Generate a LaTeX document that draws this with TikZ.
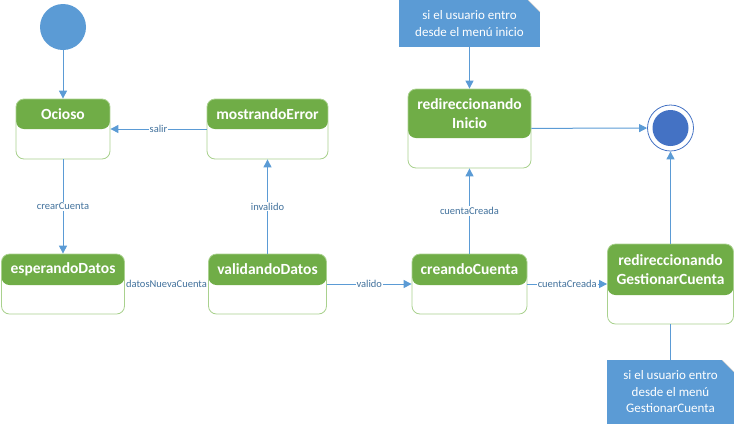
\documentclass[tikz,border=0pt]{standalone}
\usepackage{fontspec}
\setmainfont{Carlito}
\usetikzlibrary{arrows.meta}
\definecolor{hdrgreen}{HTML}{70AD47}
\definecolor{boxline}{HTML}{A9D18E}
\definecolor{flowblue}{HTML}{5B9BD5}
\definecolor{endblue}{HTML}{4472C4}
\definecolor{lbltext}{HTML}{41719C}

\tikzset{
  state/.style 2 args={draw=boxline, line width=0.8pt, fill=white, rounded corners=8pt,
    path picture={\fill[hdrgreen] (path picture bounding box.north west) rectangle ([yshift=-#1]path picture bounding box.north east);},
    label={[title, minimum height=#1]north:#2}},
  title/.style={anchor=north, inner sep=0pt, align=center, text=white, font=\fontsize{15.5}{19}\selectfont\bfseries},
  note/.style={fill=flowblue, text=white, align=center, inner sep=0pt, font=\fontsize{13}{16.5}\selectfont,
    path picture={\fill[white] ([xshift=-12pt]path picture bounding box.north east) -- (path picture bounding box.north east) -- ([yshift=-12pt]path picture bounding box.north east) -- cycle;
      \draw[black!20] ([xshift=-12pt]path picture bounding box.north east) -- ([yshift=-12pt]path picture bounding box.north east);}},
  start/.style={circle, fill=flowblue, minimum size=46pt, inner sep=0pt},
  finish/.style={circle, draw=endblue, line width=0.8pt, fill=white, minimum size=46pt, inner sep=0pt,
    path picture={\fill[endblue] (path picture bounding box.center) circle (18pt);}},
  lbl/.style={fill=white, inner sep=1pt, text=lbltext, font=\fontsize{10.5}{12}\selectfont},
  link/.style={draw=flowblue, line width=1pt},
  flow/.style={link, -{Triangle[length=8pt,width=8pt]}}
}

\begin{document}
\begin{tikzpicture}[x=1pt, y=-1pt]
        \useasboundingbox (0,0) rectangle (735,424);

        \node[start] (ini) at (63,27) {};
        \node[state={30pt}{Ocioso}, minimum width=94pt, minimum height=60pt] (oc) at (63,129) {};
        \node[state={30pt}{mostrandoError}, minimum width=121pt, minimum height=60pt] (me) at (267.5,129) {};
        \node[state={31pt}{esperandoDatos}, minimum width=123pt, minimum height=60pt] (ed) at (63,284) {};
        \node[state={31pt}{validandoDatos}, minimum width=118pt, minimum height=60pt] (vd) at (267.5,284) {};
        \node[state={31pt}{creandoCuenta}, minimum width=115pt, minimum height=60pt] (cc) at (469.5,284) {};
        \node[state={49pt}{redireccionando\\Inicio}, minimum width=123pt, minimum height=79pt] (ri) at (469.5,128.5) {};
        \node[state={51pt}{redireccionando\\GestionarCuenta}, minimum width=126pt, minimum height=80pt] (rg) at (670.5,284) {};
        \node[finish] (fin) at (670.5,128) {};
        \node[note, minimum width=141pt, minimum height=47pt] (n1) at (469.5,23.5) {si el usuario entro\\desde el menú inicio};
        \node[note, minimum width=127pt, minimum height=64pt] (n2) at (670.5,392) {si el usuario entro\\desde el menú\\GestionarCuenta};

        \draw[flow] (ini) to (oc);
        \draw[flow] (me) to node[lbl]{salir} (oc);
        \draw[flow] (oc) to node[lbl]{crearCuenta} (ed);
        \draw[flow] (ed) to node[lbl]{datosNuevaCuenta} (vd);
        \draw[flow] (vd) to node[lbl]{invalido} (me);
        \draw[flow] (vd) to node[lbl]{valido} (cc);
        \draw[flow] (cc) to node[lbl]{cuentaCreada} (ri);
        \draw[flow] (cc) to node[lbl]{cuentaCreada} (rg);
        \draw[flow] (ri) to (fin);
        \draw[flow] (rg) to (fin);
        \draw[flow] (n1) to (ri);
        \draw[link] (rg) to (n2);
      \end{tikzpicture}
\end{document}
